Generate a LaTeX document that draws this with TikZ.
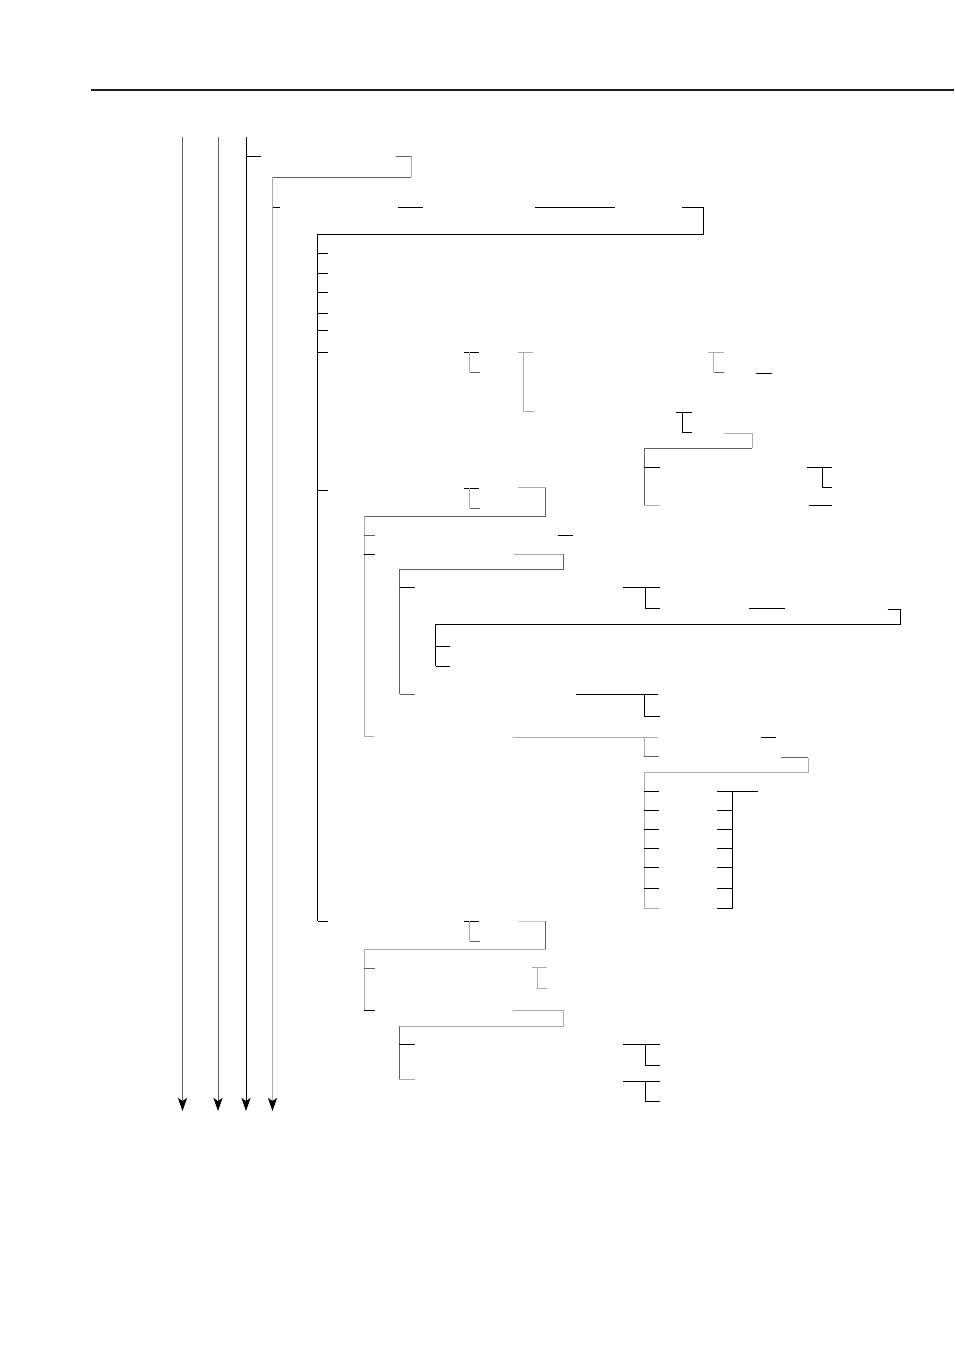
\documentclass[tikz,border=0pt]{standalone}
\usepackage{tikz}
\usetikzlibrary{arrows.meta}
\tikzset{
        blk/.style={black, line width=0.9pt},
        dk/.style={black!62, line width=0.9pt},
        lt/.style={black!33, line width=0.9pt},
        life/.style={-{Stealth[length=13pt, width=9pt, inset=3pt, color=black]}},
}
\begin{document}
\begin{tikzpicture}[x=1pt, y=-1pt]
        \useasboundingbox (0,0) rectangle (954,1351);
        \draw [black!88, line width=2pt] (91,90) -- (954,90);
        \coordinate (a0) at (182.5,137); \coordinate (a1) at (182.5,1111);
        \coordinate (b0) at (218,137);   \coordinate (b1) at (218,1111);
        \coordinate (c0) at (246,137);   \coordinate (c1) at (246,1111);
        \coordinate (d0) at (272.5,177.3); \coordinate (d1) at (272.5,1111);
        \draw [dk, life] (a0) -- (a1);
        \draw [dk, life] (b0) -- (b1);
        \draw [blk, life] (c0) -- (c1);
        \draw [lt, life] (d0) -- (d1);
        \draw [blk] (246,156.3) -- (261,156.3);
        \draw [dk] (396.4,156.3) -- (411.4,156.3);
        \draw [lt] (411.4,156.3) -- (411.4,177.3);
        \draw [dk] (411.4,177.3) -- (272.5,177.3);
        \draw [blk] (272.5,207.3) -- (279.6,207.3);
        \draw [blk] (398,207.3) -- (423,207.3);
        \draw [blk] (535,207.3) -- (614.6,207.3);
        \draw [blk] (682,207.3) -- (703.6,207.3) -- (703.6,234.3) -- (317.5,234.3) -- (317.5,921);
        \foreach \y in {253.3,273.3,292.3,313,330.3,352.3,490,921}
                \draw [blk] (317.5,\y) -- (327.6,\y);
        \draw [blk] (464,352.3) -- (478.6,352.3);
        \draw [lt] (469.6,352.3) -- (469.6,372.3);
        \draw [dk] (469.6,372.3) -- (479.6,372.3);
        \draw [lt] (517.5,352.3) -- (532.9,352.3);
        \draw [lt] (523.6,352.3) -- (523.6,411) -- (534,411);
        \draw [lt] (708,352.3) -- (723.6,352.3);
        \draw [lt] (713.6,352.3) -- (713.6,372.3);
        \draw [dk] (713.6,372.3) -- (724.3,372.3);
        \draw [blk] (756.4,373.3) -- (772,373.3);
        \draw [blk] (676.4,412.3) -- (691.8,412.3);
        \draw [blk] (682.5,412.3) -- (682.5,432.3) -- (691.8,432.3);
        \draw [lt] (724,433.3) -- (752,433.3) -- (752,448.3);
        \draw [dk] (752,448.3) -- (644.3,448.3) -- (644.3,505.7);
        \draw [blk] (644.3,467.3) -- (660,467.3);
        \draw [lt] (644.3,505.7) -- (660,505.7);
        \draw [blk] (807,467.3) -- (832,467.3);
        \draw [blk] (822.5,467.3) -- (822.5,487) -- (832,487);
        \draw [blk] (809,505.7) -- (832,505.7);
        \draw [blk] (464,488.3) -- (478.7,488.3);
        \draw [lt] (469.7,488.3) -- (469.7,508);
        \draw [dk] (469.7,508) -- (479.7,508);
        \draw [lt] (518.3,487.7) -- (545.5,487.7);
        \draw [dk] (545.5,487.7) -- (545.5,516.3) -- (364.3,516.3);
        \draw [lt] (364.3,516.3) -- (364.3,736.5) -- (374,736.5);
        \draw [dk] (364.3,535.3) -- (375.1,535.3);
        \draw [blk] (557.5,535.3) -- (573,535.3);
        \draw [blk] (363.5,554) -- (375,554);
        \draw [lt] (513.5,554) -- (563.8,554);
        \draw [dk] (563.8,554) -- (563.8,569.3) -- (399.6,569.3) -- (399.6,694);
        \draw [blk] (399.6,587.3) -- (414.7,587.3);
        \draw [blk] (623,587.3) -- (660,587.3);
        \draw [blk] (645.5,587.3) -- (645.5,608) -- (660,608);
        \draw [blk] (749,608) -- (785,608);
        \draw [blk] (887.5,609.3) -- (900.8,609.3) -- (900.8,624.3) -- (435.8,624.3) -- (435.8,666);
        \foreach \y in {646,666}
                \draw [blk] (435.8,\y) -- (449.9,\y);
        \draw [dk] (399.6,694) -- (414.7,694);
        \draw [blk] (576,694.3) -- (658,694.3);
        \draw [blk] (644.8,694.3) -- (644.8,716) -- (660,716);
        \draw [lt] (513.3,737.3) -- (658.3,737.3);
        \draw [lt] (644,737.3) -- (644,756.7);
        \draw [dk] (644,756.7) -- (659.3,756.7);
        \draw [blk] (761.3,737.7) -- (775.7,737.7);
        \draw [dk] (781,757.7) -- (808.3,757.7);
        \draw [lt] (808.3,757.7) -- (808.3,772.3) -- (644,772.3) -- (644,908) -- (659.3,908);
        \foreach \y in {791,810,829,848,867.7,888.3}
                \draw [blk] (644,\y) -- (659.3,\y);
        \draw [blk] (717,791) -- (757.7,791);
        \draw [blk] (732.7,791) -- (732.7,908);
        \foreach \y in {810,829,848,867.7,888.3,908}
                \draw [blk] (717,\y) -- (732.7,\y);
        \draw [blk] (464,921.3) -- (479,921.3);
        \draw [lt] (469.7,921.3) -- (469.7,941.3);
        \draw [dk] (469.7,941.3) -- (479.7,941.3);
        \draw [black!20, line width=0.9pt] (518.3,921) -- (545.7,921);
        \draw [dk] (545.7,921) -- (545.7,949.7);
        \draw [lt] (545.7,949.7) -- (364,949.7) -- (364,1010);
        \draw [dk] (364,968.3) -- (375,968.3);
        \draw [lt] (531.7,967.7) -- (546.7,967.7);
        \draw [lt] (537,967.7) -- (537,988) -- (547.3,988);
        \draw [blk] (364,1010) -- (375,1010);
        \draw [lt] (513.3,1010.7) -- (563.7,1010.7) -- (563.7,1026) -- (399.3,1026);
        \draw [dk] (399.3,1026) -- (399.3,1079.7);
        \draw [blk] (399.3,1044.3) -- (415,1044.3);
        \draw [blk] (623.3,1044.3) -- (660,1044.3);
        \draw [blk] (645.3,1044.3) -- (645.3,1065) -- (660,1065);
        \draw [lt] (399.3,1079.7) -- (415,1079.7);
        \draw [blk] (623.3,1081.7) -- (660,1081.7);
        \draw [blk] (645.3,1081.7) -- (645.3,1101.3) -- (660,1101.3);
\end{tikzpicture}
\end{document}
